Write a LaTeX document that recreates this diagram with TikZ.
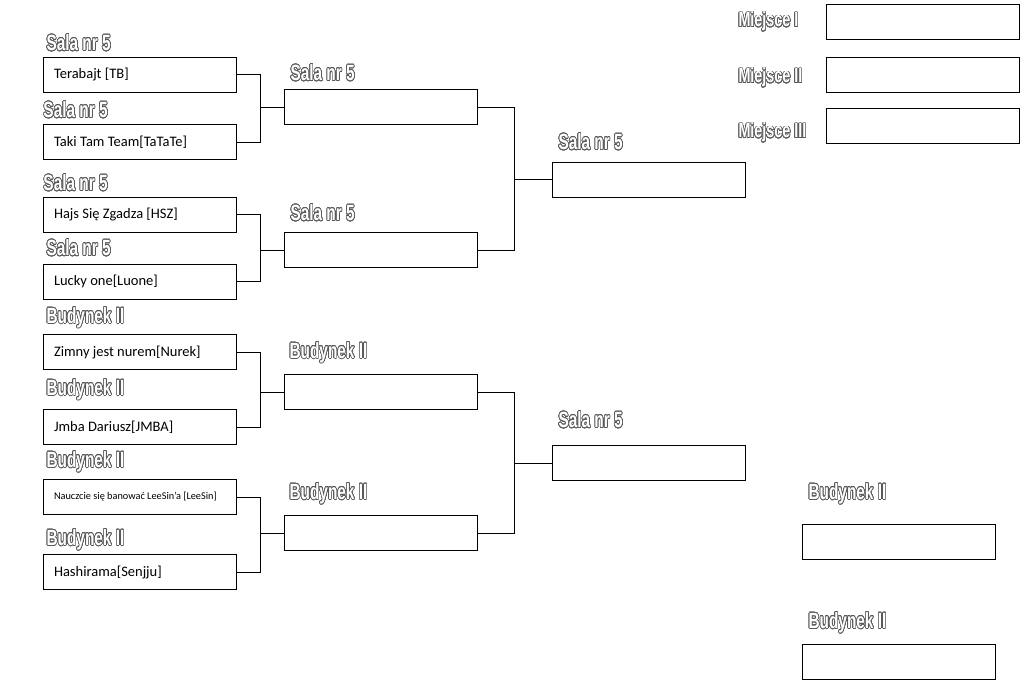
\documentclass[tikz,border=0pt]{standalone}
\usepackage{fontspec}
\usepackage{contour}
\setmainfont{Carlito}
\newfontfamily\labelfont[FakeStretch=0.7]{Liberation Sans}
\contourlength{0.65pt}
\contournumber{24}
\newcommand{\salalabel}[1]{\contour{black!65}{\textcolor{white}{#1}}}

\begin{document}
\begin{tikzpicture}[x=1pt,y=-1pt,line width=1pt]

      \useasboundingbox (0,0) rectangle (1030,686);

      \begin{scope}[every node/.style={rectangle,draw,minimum width=193pt,minimum height=35pt,
          text width=171pt,inner xsep=11pt,align=flush left,font=\fontsize{14.5}{16}\selectfont}]
        % pierwsza runda
        \node (t1) at (139.5,74.5)  {Terabajt [TB]};
        \node (t2) at (139.5,142)   {Taki Tam Team[TaTaTe]};
        \node (t3) at (139.5,214.5) {Hajs Się Zgadza [HSZ]};
        \node (t4) at (139.5,281.5) {Lucky one[Luone]};
        \node (t5) at (139.5,352)   {Zimny jest nurem[Nurek]};
        \node (t6) at (139.5,427)   {Jmba Dariusz[JMBA]};
        \node (t7) at (139.5,497)   {\fontsize{10.3}{11}\selectfont Nauczcie się banować LeeSin'a [LeeSin]};
        \node (t8) at (139.5,572)   {Hashirama[Senjju]};
        % druga runda
        \node (r1) at (380.5,107)   {};
        \node (r2) at (380.5,250)   {};
        \node (r3) at (380.5,392)   {};
        \node (r4) at (380.5,533)   {};
        % trzecia runda
        \node (s1) at (648.5,179.5) {};
        \node (s2) at (648.5,463)   {};
        % miejsca
        \node (m1) at (923,21.5)    {};
        \node (m2) at (923,74.5)    {};
        \node (m3) at (923,126)     {};
        \node (b1) at (899,542)     {};
        \node (b2) at (899,662)     {};
      \end{scope}

      \begin{scope}[every node/.style={anchor=west,inner sep=0pt,
          font=\labelfont\bfseries\fontsize{22}{24}\selectfont}]
        \node (l1)  at (46,43)   {\salalabel{Sala nr 5}};
        \node (l2)  at (43,110)  {\salalabel{Sala nr 5}};
        \node (l3)  at (43,183)  {\salalabel{Sala nr 5}};
        \node (l4)  at (46,248)  {\salalabel{Sala nr 5}};
        \node (l5)  at (46,318)  {\salalabel{Budynek II}};
        \node (l6)  at (46,390)  {\salalabel{Budynek II}};
        \node (l7)  at (46,462)  {\salalabel{Budynek II}};
        \node (l8)  at (46,540)  {\salalabel{Budynek II}};
        \node (l9)  at (290,73)  {\salalabel{Sala nr 5}};
        \node (l10) at (290,213) {\salalabel{Sala nr 5}};
        \node (l11) at (289,353) {\salalabel{Budynek II}};
        \node (l12) at (289,494) {\salalabel{Budynek II}};
        \node (l13) at (558,142) {\salalabel{Sala nr 5}};
        \node (l14) at (558,420) {\salalabel{Sala nr 5}};
        \node (l18) at (808,494) {\salalabel{Budynek II}};
        \node (l19) at (808,623) {\salalabel{Budynek II}};
      \end{scope}

      \begin{scope}[every node/.style={anchor=west,inner sep=0pt,
          font=\labelfont\bfseries\fontsize{20.5}{22}\selectfont}]
        \node (l15) at (738,22)  {\salalabel{Miejsce I}};
        \node (l16) at (738,78)  {\salalabel{Miejsce II}};
        \node (l17) at (738,133) {\salalabel{Miejsce III}};
      \end{scope}

      \coordinate (j1) at ([xshift=-23pt]r1.west);
      \coordinate (j2) at ([xshift=-23pt]r2.west);
      \coordinate (j3) at ([xshift=-23pt]r3.west);
      \coordinate (j4) at ([xshift=-23pt]r4.west);
      \coordinate (k1) at ([xshift=-37pt]s1.west);
      \coordinate (k2) at ([xshift=-37pt]s2.west);

      \draw (t1.east) -| (j1) |- (t2.east);  \draw (j1) -- (r1.west);
      \draw (t3.east) -| (j2) |- (t4.east);  \draw (j2) -- (r2.west);
      \draw (t5.east) -| (j3) |- (t6.east);  \draw (j3) -- (r3.west);
      \draw (t7.east) -| (j4) |- (t8.east);  \draw (j4) -- (r4.west);
      \draw (r1.east) -| (k1) |- (r2.east);  \draw (k1) -- (s1.west);
      \draw (r3.east) -| (k2) |- (r4.east);  \draw (k2) -- (s2.west);

    \end{tikzpicture}
\end{document}
